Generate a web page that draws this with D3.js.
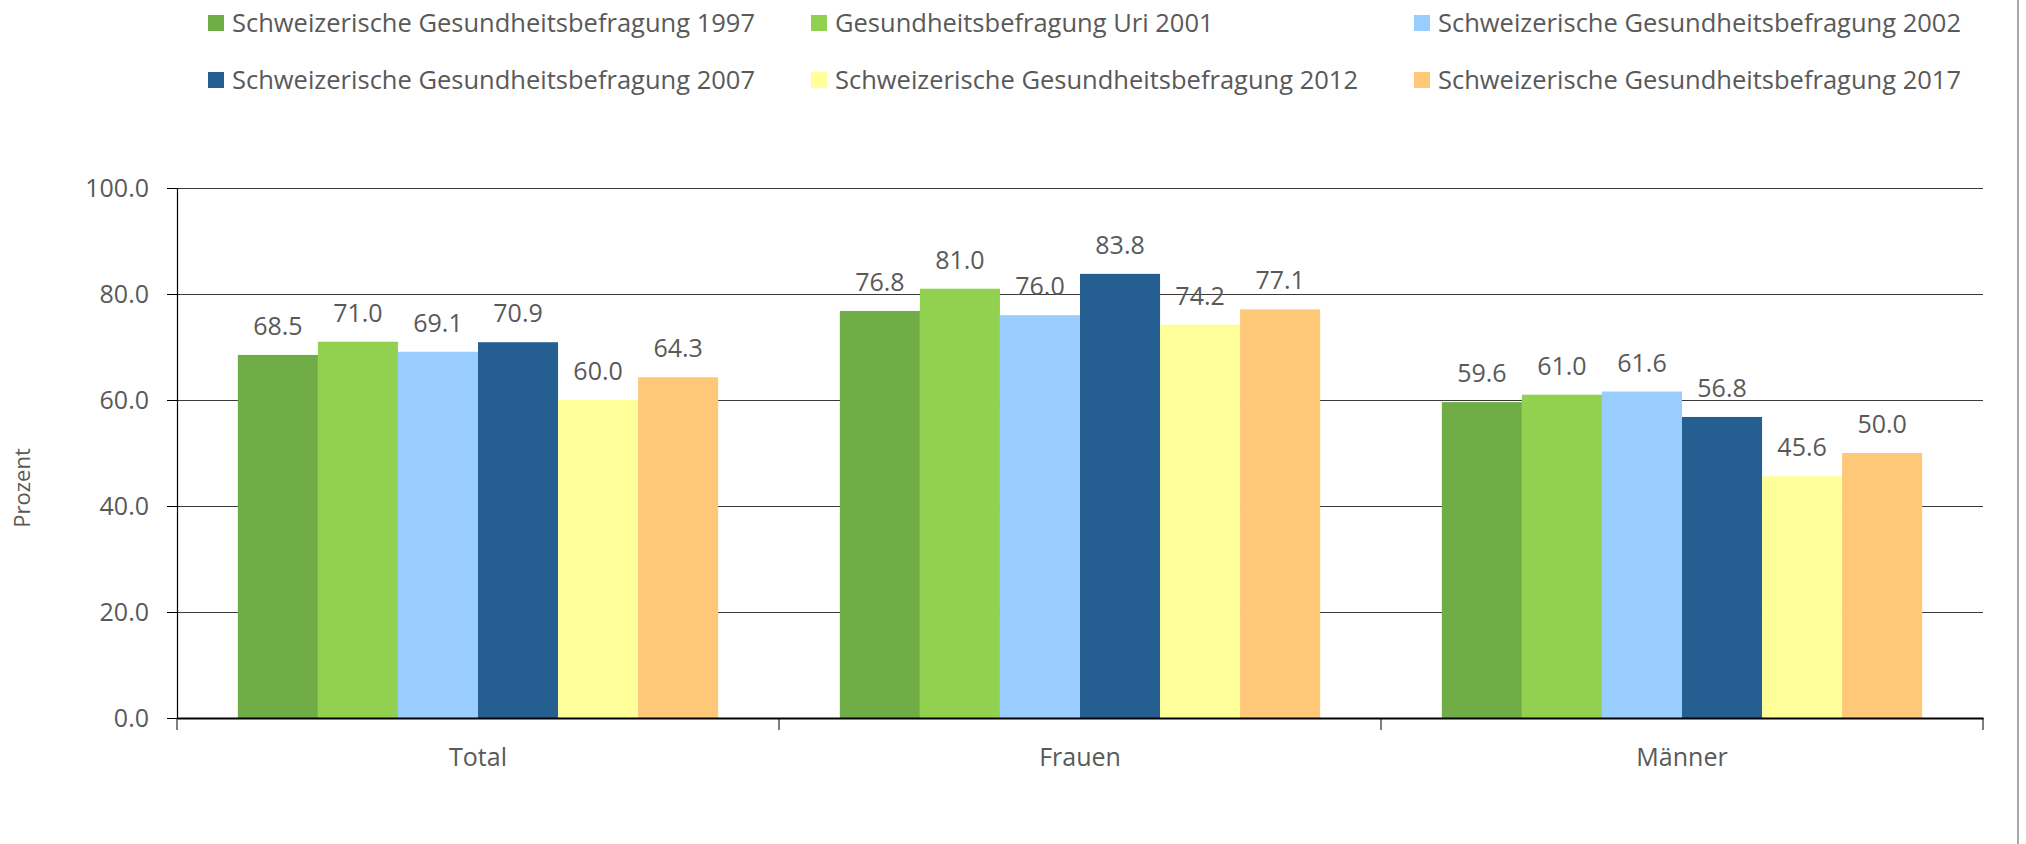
<!DOCTYPE html>
<html lang="de">
<head>
<meta charset="utf-8">
<script src="https://d3js.org/d3.v7.min.js"></script>
<style type="text/css">
body { margin: 0; background: #fff; }
.tick text { fill: #595959; }
</style>
</head>
<body>
<script type="text/javascript">

// categories and series
var categories = ["Total", "Frauen", "Männer"];
var seriesNames = [
	"Schweizerische Gesundheitsbefragung 1997",
	"Gesundheitsbefragung Uri 2001",
	"Schweizerische Gesundheitsbefragung 2002",
	"Schweizerische Gesundheitsbefragung 2007",
	"Schweizerische Gesundheitsbefragung 2012",
	"Schweizerische Gesundheitsbefragung 2017"
];
var seriesColors = ["#70ad47", "#92d050", "#99ccff", "#255e91", "#ffff99", "#ffc778"];
var v1997 = [68.5, 76.8, 59.6];
var v2001 = [71.0, 81.0, 61.0];
var v2002 = [69.1, 76.0, 61.6];
var v2007 = [70.9, 83.8, 56.8];
var v2012 = [60.0, 74.2, 45.6];
var v2017 = [64.3, 77.1, 50.0];
var yTicks = [0, 20, 40, 60, 80, 100];

var values = [v1997, v2001, v2002, v2007, v2012, v2017];

var width = 2026, height = 844;
var margin = {left: 177, right: 43, top: 188, bottom: 126};
var font = "'Open Sans', sans-serif";

var svg = d3.select("body").append("svg")
	.attr("width", width)
	.attr("height", height);

// right border line
svg.append("line")
	.attr("x1", 2018).attr("x2", 2018)
	.attr("y1", 0).attr("y2", height)
	.attr("stroke", "#8c8c8c").attr("stroke-width", 1.5);

var x0 = d3.scaleBand()
	.domain(categories)
	.range([margin.left, width - margin.right])
	.padding(0);

var x1 = d3.scaleBand()
	.domain(d3.range(seriesNames.length))
	.range([0, x0.bandwidth()])
	.paddingInner(0)
	.paddingOuter(0.76);

var y = d3.scaleLinear()
	.domain([0, 100])
	.range([height - margin.bottom, margin.top]);

// gridlines
svg.append("g")
	.selectAll("line")
	.data(yTicks.slice(1))
	.enter()
	.append("line")
	.attr("x1", margin.left).attr("x2", width - margin.right)
	.attr("y1", function(d) { return Math.round(y(d)) + 0.5; })
	.attr("y2", function(d) { return Math.round(y(d)) + 0.5; })
	.attr("stroke", "#3a3a3a").attr("stroke-width", 1.2);

// bars
var groups = svg.append("g")
	.selectAll("g")
	.data(categories)
	.enter()
	.append("g")
	.attr("transform", function(d) { return "translate(" + x0(d) + ",0)"; });

groups.selectAll("rect")
	.data(function(d, ci) { return values.map(function(s, si) { return {si: si, v: s[ci]}; }); })
	.enter()
	.append("rect")
	.attr("x", function(d) { return x1(d.si); })
	.attr("width", x1.bandwidth())
	.attr("y", function(d) { return y(d.v); })
	.attr("height", function(d) { return y(0) - y(d.v); })
	.attr("fill", function(d) { return seriesColors[d.si]; });

// data labels
groups.selectAll("text")
	.data(function(d, ci) { return values.map(function(s, si) { return {si: si, v: s[ci]}; }); })
	.enter()
	.append("text")
	.attr("x", function(d) { return x1(d.si) + x1.bandwidth() / 2; })
	.attr("y", function(d) { return y(d.v) - 20; })
	.attr("text-anchor", "middle")
	.style("font-family", font)
	.style("font-size", "25px")
	.style("fill", "#595959")
	.text(function(d) { return d.v.toFixed(1); });

// y axis
var yAxis = svg.append("g")
	.attr("transform", "translate(" + margin.left + ",0)")
	.call(d3.axisLeft(y).tickValues(yTicks).tickFormat(d3.format(".1f")).tickSize(10).tickPadding(18));
yAxis.selectAll("text")
	.style("font-family", font)
	.style("font-size", "25px");
yAxis.select(".domain").attr("stroke", "#000").attr("stroke-width", 1.2);
yAxis.selectAll(".tick line").attr("stroke", "#000");

// x axis
var xAxis = svg.append("g")
	.attr("transform", "translate(0," + y(0) + ")")
	.call(d3.axisBottom(x0).tickSize(0).tickPadding(30));
xAxis.select(".domain").attr("stroke", "#000").attr("stroke-width", 2);
xAxis.selectAll("text")
	.style("font-family", font)
	.style("font-size", "25px");
svg.append("g")
	.selectAll("line")
	.data(categories.concat(["end"]))
	.enter()
	.append("line")
	.attr("x1", function(d, i) { return i < categories.length ? x0(d) : x0.range()[1]; })
	.attr("x2", function(d, i) { return i < categories.length ? x0(d) : x0.range()[1]; })
	.attr("y1", y(0)).attr("y2", y(0) + 12)
	.attr("stroke", "#000").attr("stroke-width", 1);

// y axis title
svg.append("text")
	.attr("transform", "translate(30,488) rotate(-90)")
	.attr("text-anchor", "middle")
	.style("font-family", font)
	.style("font-size", "22px")
	.style("fill", "#595959")
	.text("Prozent");

// legend
var legendX = [208, 811, 1414];
var legendY = [23, 80];
var legend = svg.append("g")
	.selectAll("g")
	.data(seriesNames)
	.enter()
	.append("g")
	.attr("transform", function(d, i) { return "translate(" + legendX[i % 3] + "," + legendY[Math.floor(i / 3)] + ")"; });

legend.append("rect")
	.attr("x", 0).attr("y", -8)
	.attr("width", 16).attr("height", 16)
	.attr("fill", function(d, i) { return seriesColors[i]; });

legend.append("text")
	.attr("x", 24)
	.attr("y", 0)
	.attr("dy", "0.36em")
	.style("font-family", font)
	.style("font-size", "25.5px")
	.style("fill", "#595959")
	.text(function(d) { return d; });

</script>
</body>
</html>
